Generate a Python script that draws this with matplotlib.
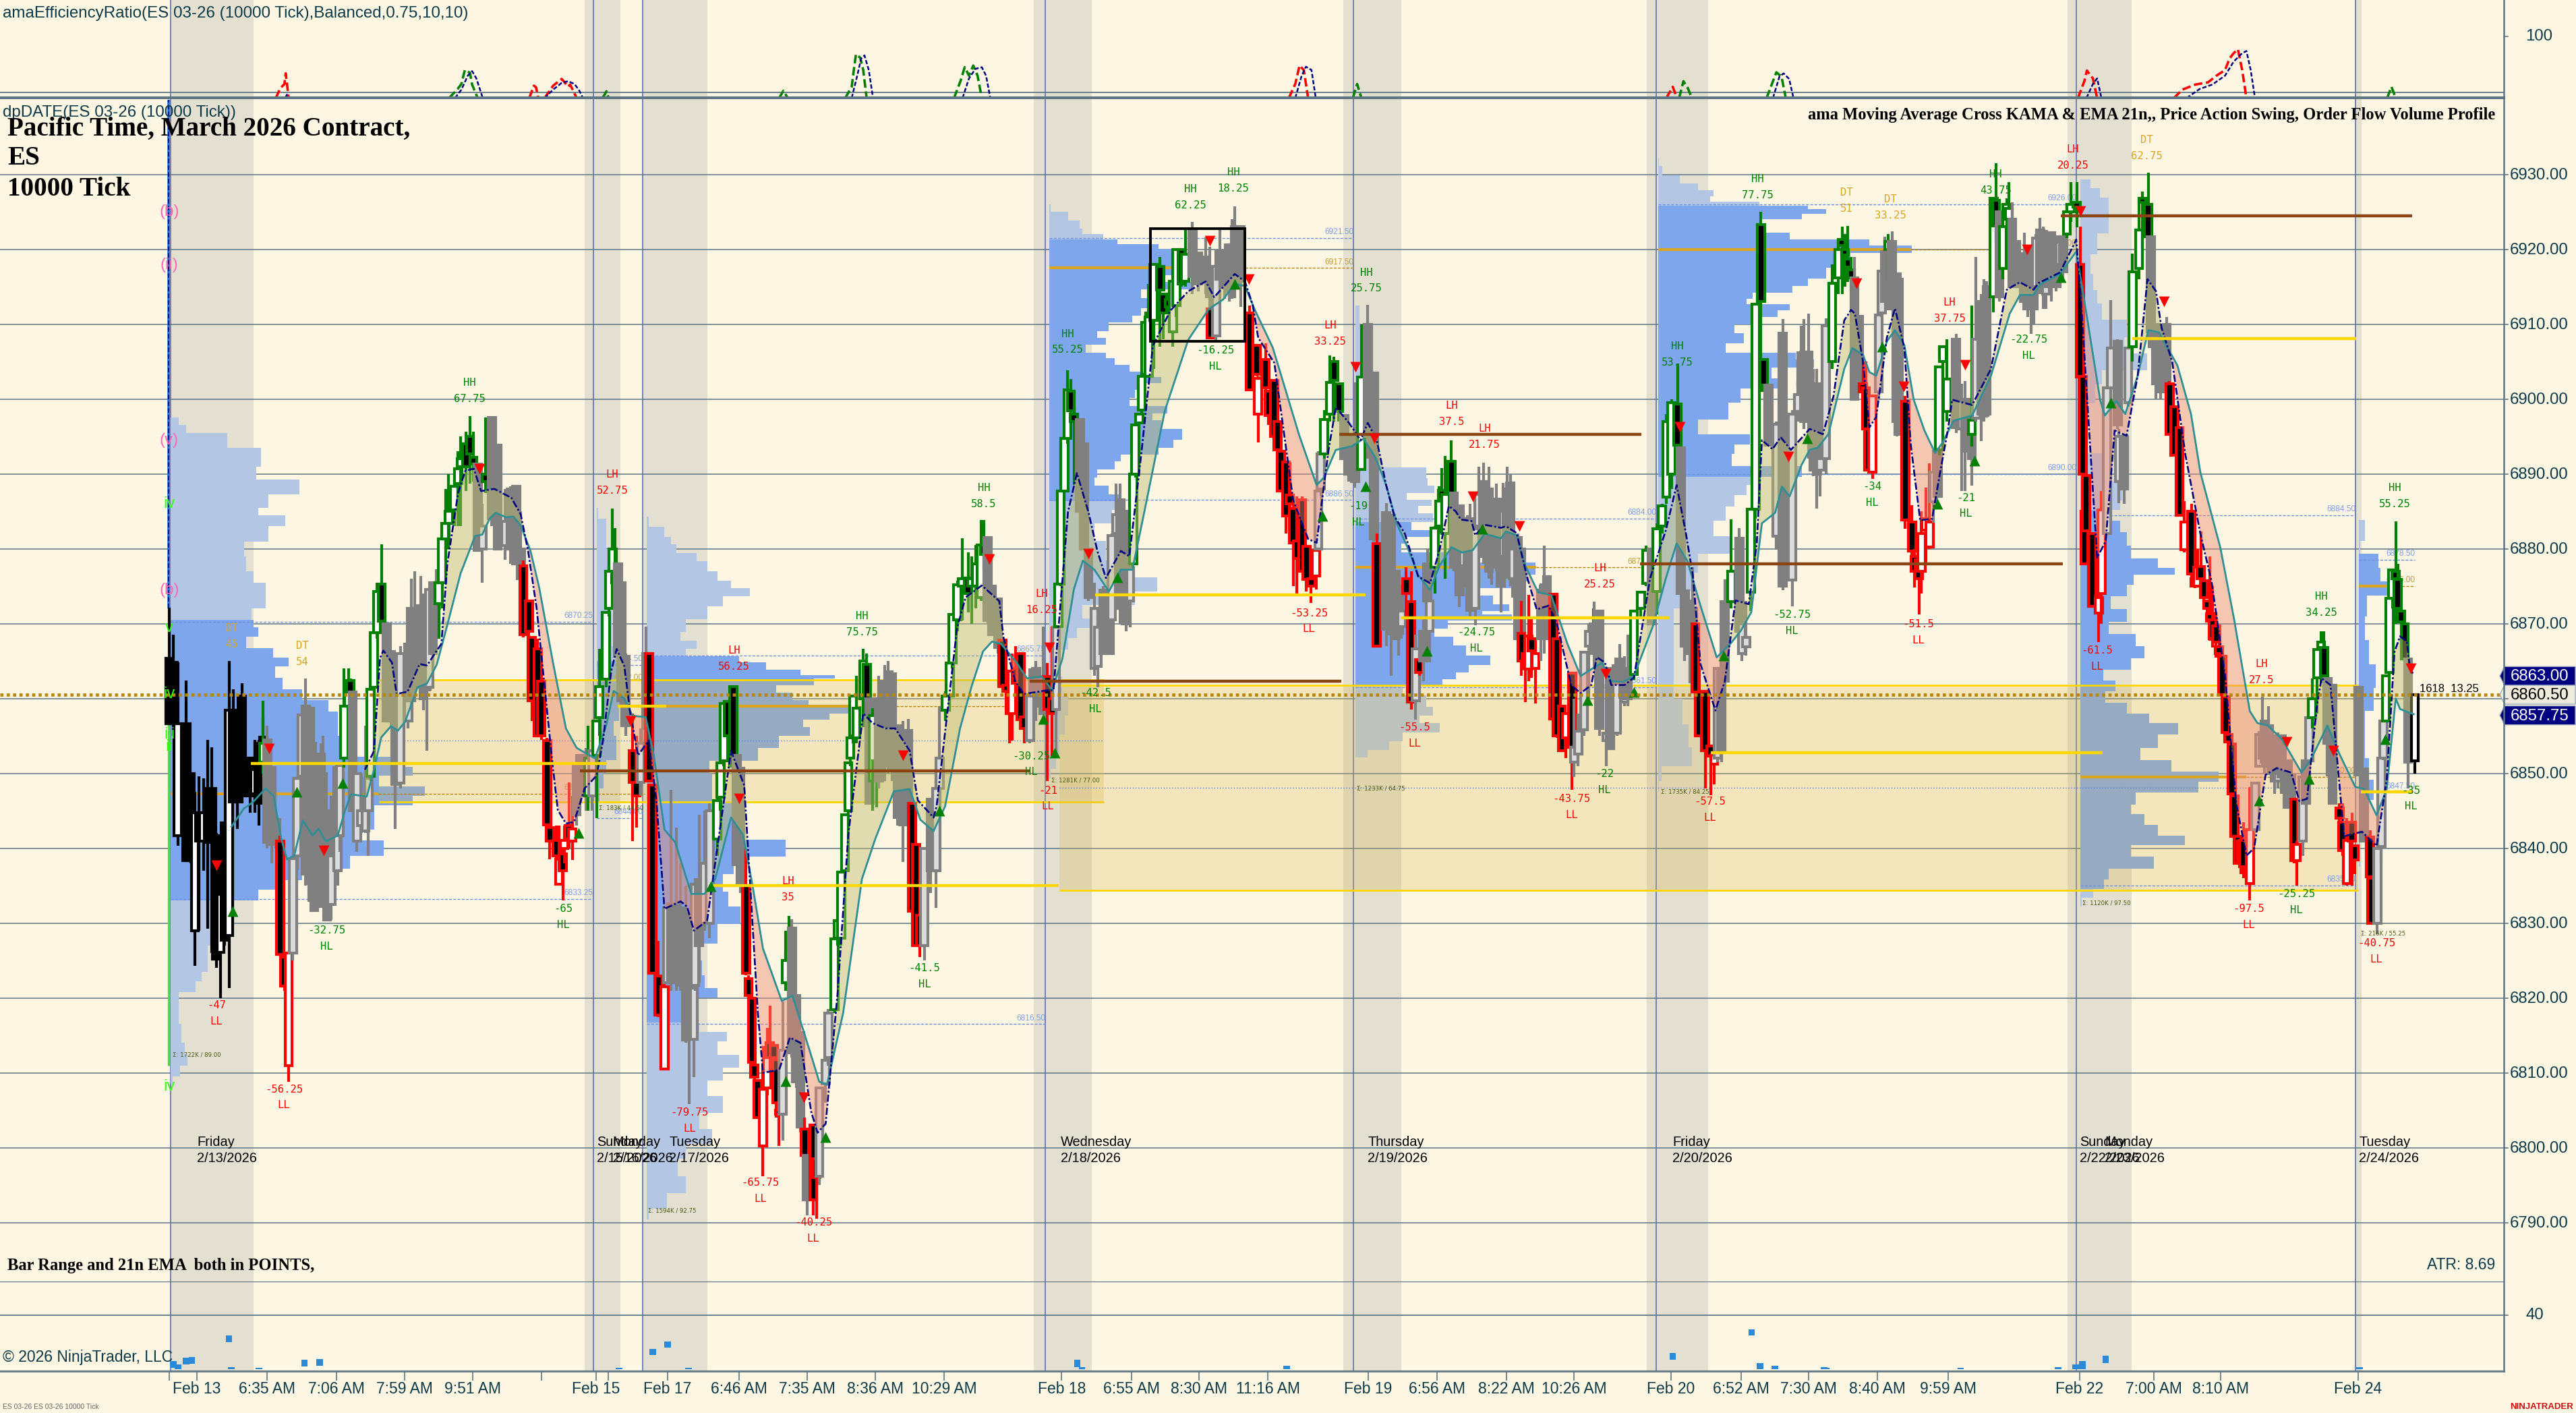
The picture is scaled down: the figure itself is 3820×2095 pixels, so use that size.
import numpy as np
import matplotlib
matplotlib.use("Agg")
import matplotlib.pyplot as plt
from matplotlib.patches import Rectangle, Polygon

W, H = 3820, 2095
PX_BAR = 6.325     # screen pixels per bar slot
X0 = 251.0         # screen x of slot 0

# ---- candles: (slot, state, open, high, low, close); state k=session open g=up swing n=neutral r=down swing
bars_feb13 = [
(0,'k',6865.4,6872.1,6856.6,6856.6),(1,'k',6864.8,6868.5,6855,6856.6),(2,'k',6841.7,6864.8,6840.3,6856.6),
(4,'k',6856.6,6862.4,6838.3,6838.3),(5,'k',6850,6850,6838,6838.3),(6,'k',6829,6847.5,6824.3,6844.7),
(7,'k',6844.7,6849.6,6829,6841),(8,'k',6841,6849.3,6837,6844.7),(9,'k',6848,6854.5,6829.2,6840.8),
(10,'k',6848,6853.5,6826,6841.7),(11,'k',6841.7,6842,6824,6825.2),(12,'k',6826.1,6841.7,6820,6833.8),
(13,'k',6843.4,6843.4,6827,6827.7),(14,'k',6828.3,6865,6821.3,6858.4),(15,'k',6858.4,6861.2,6846,6846.2),
(16,'k',6858.4,6858.4,6842.6,6846.2),(17,'k',6860.3,6862,6846,6847),(19,'k',6852,6852,6844.7,6847),
(20,'k',6847.3,6854.5,6844.7,6850.5),(21,'k',6854,6854.5,6843,6846),(22,'k',6854.8,6857.5,6846,6846.6),
(22,'g',6851.5,6859.7,6850,6854),(23,'n',6854.5,6856.4,6840,6840.8),(24,'n',6850.8,6851,6838,6840.5),
(25,'n',6843.8,6844,6840,6841),(26,'r',6841,6841.7,6825.8,6825.8),(27,'r',6825.5,6826,6821,6821.6),
(28,'r',6811,6826.1,6808.8,6826),(29,'n',6826,6838.6,6825,6838.6),(30,'n',6839,6849.3,6837.1,6849.3),
(31,'n',6849.6,6857.8,6849,6857.8),(32,'n',6859,6862.7,6835,6836.5),(33,'n',6858.7,6858.7,6835,6835.3),
(33.5,'n',6854,6854,6833,6833),(34,'n',6843.8,6843.8,6831.7,6831.7),(35,'n',6835.6,6845,6835,6840.8),
(35.5,'n',6852.6,6854,6835,6835),(36,'n',6850,6855,6832,6832.2),(37,'n',6838,6840,6830.4,6830.4),
(38,'n',6832.5,6847,6830.4,6845),(38.5,'n',6845,6847.5,6838.5,6839),(39.5,'n',6837,6851,6835,6850.8),
(40,'n',6841.7,6851,6839.5,6851),(41,'g',6852,6864,6850.8,6859),(42,'g',6859,6864,6857,6862.4),
(42.5,'g',6862.4,6862.7,6860,6860.9),(43,'n',6860.9,6860.9,6845,6845),(44,'n',6841,6850,6839.5,6850),
(45,'n',6843,6850,6842,6845),(46,'n',6842.3,6856.4,6842,6846.8),(46.7,'n',6845,6851.7,6839,6849.3),
(47.2,'g',6849.6,6861.2,6849,6861.2),(48,'g',6861.5,6868.8,6860,6868.8),(48.7,'g',6868.8,6875.5,6868,6874.3),
(49.8,'g',6875.3,6880.6,6870,6870.3),(51,'n',6870,6870,6857,6857),(52,'n',6866.3,6866.3,6856,6857),
(53,'n',6860.3,6861,6842.6,6848.5),(54.2,'n',6848.7,6867,6848,6866),(56,'n',6857,6867.3,6856,6867.3),
(56.7,'n',6872,6876,6859,6859.7),(57.5,'n',6872,6877,6861,6861.5),(59,'n',6872.4,6876.4,6860,6861.5),
(59.6,'n',6865,6874,6858.4,6860),(60.4,'n',6872.4,6872.4,6853,6861.2),(61,'n',6861.5,6874.6,6861,6874.6),
(61.8,'n',6875.5,6875.5,6864,6866),(62.6,'n',6875.5,6877.3,6870,6872),(63.2,'g',6872.7,6881,6868,6875.5),
(64,'g',6875.5,6881.3,6872,6881.3),(64.8,'g',6881.3,6888,6880,6883.4),(65.5,'g',6883.4,6890,6880,6885),
(66.8,'g',6885.2,6890,6883,6888.3),(67.7,'g',6888.7,6893,6883,6890.7),(68.3,'g',6891,6895,6883,6892),
(69.6,'g',6894,6895.6,6887.7,6891),(70.5,'g',6895,6897.7,6888.7,6892.7),(71.3,'g',6892.2,6895.6,6889,6891.3),
(72.3,'n',6891.3,6891.3,6879.8,6879.8),(73.4,'n',6880,6886,6875.5,6883),(74.2,'g',6890,6897.5,6887.4,6889),
(75.6,'n',6897.5,6897.5,6883,6884),(77,'n',6893.8,6893.8,6880,6880),(78.8,'n',6880.4,6888,6878.5,6883.7),
(80,'n',6888,6888.3,6878,6880),(81.3,'n',6888.3,6888.3,6878,6878),(82.4,'n',6880,6885,6875.5,6876),
]
bars_feb15_early = [
(83,'r',6877.7,6878.4,6868.2,6868.5),(84.3,'r',6873,6873,6867.7,6869),(85,'r',6868.2,6868.2,6857,6859.7),
(86.4,'r',6866.6,6868,6855,6855),(87.2,'r',6862.3,6862.7,6854.5,6855),(88.6,'r',6854.4,6854.7,6843,6843.1),
(89.2,'r',6842.8,6843,6838.5,6841),(90.8,'r',6841,6843,6838.5,6839),(91.4,'r',6835.2,6843,6835,6838.5),
(92.3,'r',6839.2,6841,6833,6837),(92.6,'r',6840,6843,6838,6841),(93.7,'r',6843,6848.8,6840,6841.2),
(94.5,'r',6841,6847,6838.4,6842.6),(95.5,'n',6851,6851,6843,6844.5),(96.4,'n',6852.4,6852.4,6846,6847),
(97.7,'n',6847,6853.4,6845,6850.4),(98.2,'g',6847,6856.4,6845,6852),(99.2,'n',6847,6853,6845,6853),
(100.2,'g',6852.4,6857,6844,6857),(100.8,'g',6857.4,6866.6,6855,6861.6),(102.4,'g',6862.6,6871.5,6861.5,6871.5),
(103.1,'g',6872,6877,6871,6877),(103.9,'g',6877,6885.4,6875.8,6880),(104.5,'g',6876.5,6882.8,6875,6875.5),
(105.2,'n',6878,6878,6865.6,6865.6),(106,'n',6875.5,6875.5,6859,6859.7),(107,'n',6865.6,6866,6855,6856.4),
(108.6,'r',6853,6858,6841,6848.8),(109.5,'r',6848.8,6855,6842.8,6847),(110.5,'n',6848.8,6856,6847,6854),
]
bars_feb17 = [
(111.8,'n',6866,6869.6,6855,6856),(112.5,'r',6866,6866,6849,6849),(113.3,'r',6848.4,6848.4,6823.3,6823.3),
(114.7,'r',6822.9,6827.6,6817.4,6817.7),(116.1,'r',6810.5,6824,6810.4,6821.5),(116.7,'n',6822,6832,6822,6832),
(117.7,'n',6832.6,6847.8,6821,6822),(118.9,'n',6832.3,6842.8,6821,6822),(119.9,'n',6832,6838,6821,6821.7),
(121.1,'n',6831.2,6835,6814,6814.4),(121.9,'n',6821,6825,6805.8,6815),(123,'n',6814.5,6821.3,6809.4,6821.3),
(123.3,'n',6821.7,6836,6821,6835.2),(124.2,'n',6835.8,6844.5,6822,6827),(125.5,'n',6830,6845,6829,6838),
(126.7,'n',6830,6846,6828,6845),(128.5,'g',6841.2,6847,6839,6846.4),(129.2,'g',6846.8,6851.4,6845,6851.4),
(130,'g',6851.7,6859.3,6851,6859.3),(131,'g',6859.6,6859.6,6855,6855),(132.2,'g',6861.6,6861.6,6851,6851),
(133,'n',6852.4,6852.4,6837.8,6837.8),(133.9,'n',6850.7,6850.7,6834,6835.2),(135.2,'r',6835,6840,6823,6823.3),
(135.8,'r',6822.6,6823,6820,6820.3),(136.6,'r',6820,6820,6811.2,6811.4),(137.2,'r',6811,6811,6809,6809.4),
(137.9,'r',6809,6809,6804,6804),(139.2,'r',6800.2,6811,6796.2,6807.8),(140.2,'r',6808,6816,6807,6813.4),
(140.8,'r',6814,6819,6810,6812),(141.7,'r',6813.7,6814,6808,6812),(142.3,'r',6811.8,6812,6804,6806),
(143,'r',6805,6806,6800.2,6804.5),(143.8,'n',6804.5,6819.5,6801,6813),(144.5,'g',6822,6829,6821,6825),
(145.3,'g',6825,6831,6823,6826),(146,'n',6829.3,6830.5,6812,6812.7),(147,'n',6820.3,6820.3,6808,6808.8),
(148,'n',6815.4,6815.4,6802,6802.8),(149,'r',6802.5,6804,6793,6799),(149.5,'n',6799,6799,6791,6793),
(151,'r',6803,6803.2,6791,6793),(151.7,'r',6798.5,6799,6790.5,6796),(152.4,'n',6796.2,6808,6795,6808),
(153.9,'n',6808.5,6811.7,6806,6811.7),(154.5,'n',6812,6818.5,6811,6818),(156,'g',6818.4,6827.9,6818,6827.9),
(156.7,'g',6828,6830.3,6827,6830.3),(157.5,'g',6828,6836.8,6827,6836.8),(158.4,'g',6837,6844.5,6837,6844.5),
(159.2,'g',6845,6851.4,6844.5,6851.4),(159.7,'g',6852,6854.7,6851,6854.7),(160.3,'g',6855,6860.3,6854,6860.3),
(161.1,'g',6854.7,6863,6854,6858.7),(162.7,'g',6860,6866.6,6858,6865),(163.5,'g',6864.6,6866,6856,6856.4),
(164.2,'n',6860,6860,6846,6846),(164.9,'g',6849,6858.7,6845,6857.7),(165.8,'g',6849,6860,6845.5,6851.7),
(166.4,'n',6860,6863,6848,6849),(167.7,'n',6862.3,6864.5,6849,6851),(168.6,'n',6863.6,6865,6850,6851.7),
(169.5,'n',6863.3,6863.3,6849,6850.4),(170.8,'n',6856.4,6856.4,6843,6844.1),(172,'n',6855.4,6857,6838.2,6843.1),
(173.3,'n',6855.7,6857.3,6843,6843.1),(174.2,'r',6846,6846,6831.6,6831.6),(175.1,'r',6840.5,6840.5,6827,6827),
(176,'r',6831,6831,6825.5,6827),(177,'n',6827,6840,6825,6840),(178.5,'n',6846.5,6846.5,6834,6837),
(179.8,'n',6837,6850,6832,6848),(180.6,'n',6848,6859,6846,6852),(182,'g',6858.4,6861,6857,6860.3),
(183,'g',6860.3,6864.7,6859,6864.7),(183.6,'g',6864.7,6871.2,6864,6871.2),(184.8,'g',6870.5,6875.7,6869,6875.2),
(185.9,'g',6875,6881.4,6870.4,6876),(187.3,'g',6876.1,6879.5,6871.5,6874),(188.1,'g',6875,6879,6870,6876),
(189.1,'g',6875,6880.5,6872,6878),(190.3,'g',6873.5,6883.8,6873,6880.5),(191,'g',6880.5,6883.8,6877,6879.2),
(191.9,'n',6881.5,6881.5,6870,6870.4),(192.9,'n',6875,6875,6868.5,6868.5),(194.3,'n',6873.3,6873.3,6866,6866.8),
(195.3,'r',6867.8,6868,6861.6,6861.6),(196.2,'r',6861.8,6862,6860,6861),(197,'r',6860.6,6861,6854,6858),
(197.6,'r',6858,6866,6854.4,6863.7),(198.4,'r',6864,6867,6860,6862),(199.6,'r',6866,6866,6857,6857.2),
(200.4,'r',6857.5,6860,6854,6856),(201.8,'n',6854.4,6864,6854,6860.3),(203.2,'n',6864,6865,6857,6861),
(204.2,'n',6862.9,6862.9,6858,6859),(204.9,'n',6862.6,6869.6,6858,6858),(205.9,'r',6862.9,6864.7,6849,6858.5),
(207,'r',6860,6869.6,6852.3,6858),
]
bars_feb18 = [
(207.9,'n',6858.5,6869.6,6852,6869.5),(208.5,'g',6869.6,6875.3,6869.6,6875.3),(209,'g',6875.3,6887.7,6875,6887.7),
(209.9,'g',6887.7,6894.7,6887.7,6894.7),(210.6,'g',6894.7,6903.8,6894,6901.2),(211.4,'g',6901,6902.7,6896,6898.4),
(212.1,'g',6898,6899,6888.5,6897),(213.5,'n',6897.3,6897.3,6885,6885),(214.5,'n',6894,6894,6880,6880),
(215.5,'n',6880,6880,6873,6873.5),(216.9,'n',6864,6875.5,6863,6872),(217.7,'n',6864.3,6872,6861.5,6869.5),
(219,'n',6874.5,6875,6866,6866),(220.5,'n',6871,6871,6866,6866),(221,'n',6870.5,6882,6870,6881.8),
(222,'n',6882,6888.7,6880,6884.6),(223,'n',6886.5,6888.7,6870,6872),(224.3,'n',6885,6885,6869,6870),
(225.3,'n',6873,6880,6869.5,6877.4),(226,'g',6878,6890,6877.5,6890),(226.5,'g',6890,6896.5,6889.5,6896.5),
(227.4,'g',6896.8,6898,6896,6898),(228,'g',6898.5,6903,6898,6903),(228.9,'g',6903.3,6911.7,6903,6910.2),
(229.6,'g',6903,6915.4,6903,6911),(230.8,'g',6910.5,6918,6904,6918),(232.3,'g',6917.7,6919,6907,6914.6),
(233,'g',6914,6914,6908,6911.5),(234.4,'g',6913.3,6915,6909,6912.3),(235.3,'g',6909,6915.7,6907,6915.7),
(236.1,'g',6912.5,6920,6911,6920),(237.3,'g',6920,6920,6915,6915.4),(238.2,'g',6915.7,6922.6,6915,6919.3),
(239.9,'n',6922.6,6923.7,6914,6916.4),(241.2,'n',6919.5,6919.5,6914.4,6915.4),(243,'n',6919,6921.6,6914,6915.7),
(244,'n',6917.7,6920.3,6912,6913.7),(244.1,'r',6912,6912,6908.2,6908.2),(245.4,'n',6908.4,6917.7,6907.9,6917.7),
(246.3,'n',6919.8,6922.6,6915,6916),(247.4,'n',6919.8,6919.8,6913.4,6915),(248.5,'n',6920.6,6920.6,6913,6914.4),
(249.2,'n',6917.2,6924,6913.4,6920.6),(249.8,'n',6923,6925.7,6913.5,6915),(251.2,'n',6923,6923,6912.3,6915.7),
(253.3,'r',6911.5,6912.5,6901.2,6901.2),(255,'r',6907.2,6907.2,6903,6903.3),(255.3,'r',6898,6903,6894.2,6902.8),
(257,'r',6905.3,6907.4,6900,6901.5),(257.7,'r',6901,6901,6896.5,6897.8),(259,'r',6902.5,6902.5,6895,6895),
(259.9,'r',6897,6897,6893,6893.2),(260.6,'r',6893,6893,6887.7,6887.7),(261.8,'r',6891.6,6891.6,6882,6884.4),
(262.7,'r',6887.2,6891.6,6881.5,6886),(263.5,'r',6885.4,6887.2,6875,6880.8),(264.4,'r',6881,6887,6874,6878.7),
(265.6,'r',6886.5,6887,6877,6877),(266.6,'r',6880.3,6880.3,6874.3,6875.9),(267.7,'r',6876,6877,6872.8,6875),
(268.9,'r',6876.4,6880.5,6874.6,6879.8),(269.4,'n',6880,6893,6879.8,6887.7),(270,'n',6888,6893,6887,6892.7),
(270.8,'g',6892.7,6898.5,6892,6897.3),(272.1,'g',6898,6905.8,6897,6902.2),(273.1,'g',6905,6905.6,6897,6902.5),
(274.2,'g',6902,6902,6897,6898.3),(275.5,'n',6897.8,6897.8,6892,6892),(276.5,'n',6895,6895,6889,6890),
(278,'n',6893,6902.2,6888.2,6889),(279.5,'g',6890.6,6910,6890.5,6902.9),
]
bars_feb19 = [
(281,'n',6910,6912.6,6892,6895),(282.4,'n',6903.5,6903.5,6881,6881.3),(283.1,'r',6880.7,6882,6867,6867),
(285.3,'n',6884.8,6886.1,6867,6869.2),(286.5,'n',6884.5,6884.5,6863,6868.6),(287.5,'n',6877,6877,6868,6868),
(288.3,'n',6875,6875,6865.7,6868.7),(288.9,'n',6869.6,6873.6,6868,6871.7),(290,'r',6876,6877.5,6871,6874),
(291.2,'r',6872.9,6877,6858.5,6859.5),(292.2,'n',6859.7,6868.5,6857.2,6866.6),(293.1,'r',6865.2,6866,6863,6863.5),
(294,'n',6869,6871,6862.3,6865),(295,'n',6878,6880,6868,6873),(295.5,'n',6869,6874,6864.8,6873),
(296.7,'g',6877.5,6883,6874,6882.8),(297.7,'g',6883,6888.3,6882,6886.4),(298.4,'g',6887.8,6890.8,6885.5,6886.6),
(299.2,'g',6882,6892.4,6876,6887.3),(300.6,'g',6891.7,6894.5,6886,6887.4),(301.2,'n',6887.4,6887.4,6877,6877.5),
(302.5,'n',6885.7,6885.7,6872.2,6873.8),(303.4,'n',6877.7,6885,6875.9,6879.8),(304.4,'n',6884,6884.5,6873,6875),
(305,'n',6884,6886,6871,6871.8),(306.2,'n',6872,6885,6869.8,6882.7),(307,'n',6883,6891,6882,6887.3),
(308.1,'n',6889,6891.5,6878,6879),(309.4,'n',6888,6891,6876,6877),(310,'n',6885.3,6888,6875.2,6878.4),
(311.2,'n',6886.6,6888.7,6877,6877.5),(312.2,'n',6886,6886,6871.5,6875),(312.8,'n',6879,6888.8,6875.3,6885),
(313.6,'n',6888,6891,6876,6878),(314.4,'n',6888.8,6890,6875,6878.5),(315,'n',6876,6889,6873.5,6880),
(316.2,'n',6881.5,6882,6868,6868),(316.9,'n',6880,6880,6868.9,6869),(317,'r',6868.7,6873,6863,6865),
(318,'r',6866,6868,6859.5,6864),(318.7,'r',6863.9,6873.8,6862.3,6868.3),(319.4,'r',6868,6870.8,6862.8,6866.4),
(320.3,'r',6864,6868,6859.3,6866),(321.6,'n',6868,6875.4,6865,6874.5),(322.3,'n',6875,6880.4,6866,6868),
(323,'n',6876.3,6876.3,6869,6869),(324.5,'r',6873.9,6874,6857,6857.3),(325.3,'r',6868,6873.8,6854.7,6855),
(326.5,'r',6859,6859,6853,6853),(327.5,'r',6854.7,6858.2,6852,6858),(328.9,'r',6863.4,6863.4,6847.8,6853.5),
(329.4,'n',6851.5,6860,6849.5,6853.5),(330.3,'n',6852.6,6858,6851,6855.6),(331.7,'n',6855.8,6866.2,6855,6866.2),
(332.8,'n',6867,6870,6860,6869),(333.9,'g',6868.5,6872,6868,6869.5),(334,'n',6870,6872.9,6864,6866),
(335.3,'n',6871.7,6871.7,6855,6856),(336.9,'n',6854.4,6862,6851,6855.4),(337.8,'n',6864,6864,6853.3,6853.3),
(339.4,'n',6855.4,6864.4,6855,6864.4),(340,'n',6865.3,6867.3,6860,6862),(341.2,'n',6859.5,6865.6,6859,6861.6),
(341.9,'n',6864,6868.5,6859,6860),
]
bars_feb20 = [
(343.4,'g',6863.2,6871.7,6862.5,6871.7),(345,'g',6872,6874.2,6871,6874.2),(346.3,'g',6875.4,6880.4,6875,6879.8),
(347.5,'n',6880,6880,6870,6870),(348.7,'g',6874.3,6883.4,6871.2,6882.7),(350,'g',6883,6886,6882,6885.7),
(351,'g',6886.9,6898,6886,6897),(352.2,'g',6890,6900,6888,6899.5),(353.6,'g',6899.3,6904.7,6893.5,6893.8),
(354.4,'n',6893.5,6893.5,6874,6874),(355.3,'n',6874.4,6874.4,6865,6867),(356.5,'n',6873,6873,6862,6866),
(357.2,'n',6872,6877.5,6864,6866),(357.8,'r',6870,6870,6860.5,6860.9),(358.7,'r',6860.9,6864,6855,6855),
(360.1,'r',6861,6861,6848,6853),(361.4,'r',6853.7,6853.7,6847.1,6852.3),(362.2,'r',6851.2,6853,6848.5,6852.5),
(363,'n',6852,6864,6851.5,6864),(363.9,'n',6864,6870.8,6851.5,6853),(364.7,'n',6872.9,6875.9,6862,6862.3),
(366.2,'g',6872.9,6883.9,6872,6877),(368.1,'n',6881.4,6882.8,6869,6869),(368.7,'n',6866,6880,6865,6870),
(369.7,'n',6866.9,6873,6865.7,6868.2),(370.8,'g',6874.2,6885.3,6871.7,6885.3),(371.9,'g',6885.3,6912.7,6884,6912.7),
(373.2,'g',6923.3,6925,6901,6913),(373.8,'g',6905.3,6905.3,6901,6901.9),(374.9,'n',6901.9,6901.9,6893.8,6893.8),
(376.8,'n',6881.7,6897,6880,6896.6),(378.3,'n',6908.8,6910.7,6874.5,6875),(380.5,'n',6875.8,6898.5,6872.3,6898),
(381.8,'n',6898.3,6906.4,6897,6900.6),(382.6,'n',6901.8,6909.8,6897,6902.2),(383.3,'n',6906.3,6910.7,6896,6897),
(384.3,'n',6906.3,6911.4,6892,6897.2),(385.5,'n',6899.4,6904,6889.7,6890.5),(386.3,'n',6902,6904,6885.4,6890),
(387.1,'n',6890.5,6901.5,6887,6892),(388.4,'n',6892,6910.8,6890,6909.8),(389.9,'g',6905,6918,6904,6915.5),
(391.3,'g',6916.2,6921.5,6914,6920),(392.2,'g',6921.3,6923,6914,6920.5),(392.9,'g',6920,6922,6915,6919.2),
(393.5,'g',6918.7,6923.1,6915.6,6917.6),(394.3,'g',6917.3,6919,6914.5,6916.2),(395.1,'n',6916.2,6919,6900,6900),
(396.1,'n',6911,6911,6902,6902),(397.1,'r',6902,6905,6897,6901),(397.8,'r',6901.5,6905,6895.9,6896),
(398.3,'r',6896,6896,6890.5,6890.5),(399.3,'r',6890.2,6900.4,6889.3,6900.4),(400.8,'n',6901,6911.2,6900,6911.2),
(401.5,'n',6911.5,6917.1,6911,6917.1),(402.2,'n',6919.7,6921.7,6913,6913),(403,'g',6920,6922,6915.5,6921),
(403.9,'n',6921,6922.4,6912,6912),(405,'n',6916.7,6916.7,6895,6897),(405.5,'n',6916,6916,6895.3,6895.3),
(407,'r',6899.7,6900.4,6882.7,6883.8),(408.6,'r',6883.6,6885.8,6879,6879.7),(409.2,'r',6879,6880,6874.8,6877),
(410.2,'r',6878.5,6880,6871.2,6876),(410.8,'r',6877,6885,6874,6882),(411.8,'r',6882.5,6888.2,6878,6884),
(412.7,'r',6880.2,6891.4,6880,6883.6),(413.6,'n',6886.3,6893.2,6883.5,6890.2),(414.6,'n',6893,6893,6887,6887),
(415,'g',6893.2,6904.3,6892.5,6904.3),(415.8,'g',6905,6907,6900,6907),(416.8,'g',6898.3,6908,6897,6902.7),
(418.9,'n',6908,6908.7,6895.5,6896.2),(420.3,'n',6896,6902,6887.7,6899.7),(421.1,'n',6900,6902.4,6887.7,6893),
(421.9,'n',6898,6900,6892,6893),(422.6,'n',6896,6898,6888.4,6892),(422.6,'g',6895.3,6912.5,6893.7,6897.2),
(423.6,'n',6897.4,6919,6897,6908),(424.9,'n',6913,6914,6894.4,6898),(425.5,'n',6897.8,6916,6897,6911.8),
(426.1,'n',6915,6915.7,6897.5,6898),(427.7,'g',6913.7,6926.8,6911.6,6926.8),(428.3,'g',6926.5,6931.5,6921,6923.1),
(429.1,'n',6925,6925,6913,6913.7),(429.9,'g',6917.4,6925,6916,6923),(430.8,'g',6924,6926.8,6920,6926),
(431.3,'g',6924,6929,6922.5,6925.5),(432.1,'n',6924,6926.3,6915,6915),(433,'n',6921,6921,6915.5,6915.7),
(434,'n',6918.7,6918.7,6914,6915),(434.9,'n',6919.4,6922.2,6912.3,6913),(435.7,'n',6917.8,6917.8,6911,6912),
(436.5,'n',6913,6918,6908.7,6914),(437.1,'n',6920,6920,6910,6912),(437.7,'n',6915,6922,6912,6921.5),
(438.6,'n',6922.6,6924.2,6914,6915),(439.3,'n',6922.4,6923,6912,6915),(440,'n',6914,6922,6912,6915),
(441.2,'n',6922.2,6922.2,6913,6915),(442.4,'n',6921.7,6921.7,6914.4,6915),(443.3,'n',6918,6921,6915,6921),
(444,'n',6921.7,6921.7,6916,6917),(444.9,'g',6922,6926,6921.5,6925),(445.8,'g',6925,6929,6923.7,6926),
(447.2,'g',6926.3,6929,6922.9,6925.6),
]
bars_feb22 = [
(448,'r',6918,6923,6902.9,6902.9),(448.6,'r',6903,6903,6890,6890),(449,'r',6885,6885,6878,6878),
(449.4,'r',6889.8,6889.8,6882.4,6882.4),(450.8,'r',6882,6882,6872.3,6872.3),(452.4,'r',6871.4,6875,6867.5,6873.5),
(453,'r',6874,6887.7,6870,6885.2),(454.3,'n',6882,6901.5,6882,6901.5),(455.2,'n',6901.5,6913.2,6900,6906.8),
(456.8,'n',6907.7,6908,6896,6896.5),(457.1,'n',6889,6896,6886.1,6895),(458.3,'n',6895,6895,6886,6888),
(459.3,'n',6899.5,6907,6899,6906.8),(460.3,'g',6907,6919.4,6905,6917),(461.8,'g',6917.4,6927,6916,6922.6),
(462.6,'g',6926.8,6927.7,6920,6926.3),(464,'g',6926,6930.2,6921,6921.7),(464.6,'n',6921.7,6921.7,6909,6909),
(465,'n',6909,6910,6906.3,6907),(465.8,'n',6910,6910,6900,6902),(466.8,'n',6905,6910,6900,6901),
(468.3,'n',6910,6911,6901,6902.5),(469,'r',6902,6902.4,6895.3,6895.3),(470.1,'r',6899,6899,6892.5,6892.5),
(471.3,'r',6896.2,6896.4,6884.5,6884.5),(472.4,'r',6879.9,6886.4,6879.5,6883.6),(474.1,'r',6885,6886,6875.6,6876.6),
(474.9,'r',6876,6880,6874.7,6875),(475.5,'r',6875,6880,6875,6877.5),(476.3,'r',6877.6,6882.3,6874,6876),
(477,'r',6875.7,6875.7,6873,6873.5),(477.8,'r',6873,6873,6871,6872),(478.4,'r',6871.3,6879,6867.7,6870.3),
(479.1,'r',6870.5,6875,6866.8,6868),(479.9,'r',6869.7,6871.6,6865.5,6867.5),(480.6,'r',6866.9,6867.5,6865.5,6866),
(481.4,'r',6865.6,6865.6,6860.5,6860.5),(482.1,'r',6860.2,6860.2,6855.5,6855.5),(482.8,'r',6855.2,6855.2,6853.9,6854.2),
(483.6,'r',6853.9,6853.9,6847.3,6847.3),(484.2,'r',6847,6847,6841.6,6841.6),(484.9,'r',6841.6,6841.6,6837.8,6838),
(485.7,'r',6841,6841,6836.5,6838),(486.3,'r',6841,6843.5,6836,6837.5),(487.8,'r',6835.3,6848.2,6833,6842.5),
(489.1,'n',6842.5,6848.7,6842,6848.7),(490,'n',6851,6855.5,6851,6855.2),(490.8,'n',6855.5,6860.2,6851,6852),
(491.3,'n',6857,6857,6850,6851.5),(492.2,'n',6856.4,6859,6850,6851),(492.8,'n',6855,6856.5,6849.7,6850),
(493.6,'n',6855,6855,6847.3,6849),(494.4,'n',6849,6855.5,6848,6850),(495.2,'n',6855,6855,6847.3,6849.5),
(496,'n',6851.7,6851.7,6847,6848),(496.7,'n',6851.7,6851.7,6845.3,6845.5),(497.5,'n',6849.8,6849.8,6846,6846.6),
(498.2,'r',6846.5,6846.5,6838,6838.3),(498.8,'r',6838.3,6841,6835,6840.5),(500.2,'n',6841,6849.5,6839,6849.5),
(501,'n',6851.7,6851.7,6846,6846),(501.7,'n',6851.7,6857.4,6851,6857.4),(502.4,'g',6857.4,6862.7,6856,6860),
(503.6,'g',6862.8,6866.5,6858,6866.5),(504.5,'g',6866.5,6869,6862,6867.5),(505.2,'g',6866.8,6869,6861,6863),
(506,'n',6862.7,6862.7,6853,6854),(506.7,'n',6861.8,6861.8,6849,6849.8),(507.2,'n',6861.8,6861.8,6846,6846),
(508.8,'r',6845.4,6846,6843.5,6844),(509.5,'r',6843.5,6846,6839,6839.7),(510.5,'r',6835.3,6844,6835,6841),
(511.7,'r',6843.5,6844.7,6835,6841),(512.4,'r',6840.3,6840.5,6836.5,6838.4),
]
bars_feb24 = [
(513.3,'n',6861.5,6861.5,6849.8,6849.8),(514.6,'n',6850.6,6850.6,6841,6841),(516,'r',6841.5,6842.4,6835.5,6836.2),
(516.2,'r',6836,6836,6830,6830),(517.7,'n',6830,6840.2,6828.5,6840),(518.6,'n',6840.2,6852,6838,6852),
(519.1,'n',6852,6857,6851.8,6857),(519.7,'g',6857,6863,6857,6863),(520.5,'g',6863.5,6873.4,6863,6873.4),
(521.2,'g',6873.4,6877.2,6872,6877.2),(522,'g',6877,6883.7,6870,6876),(522.5,'g',6875.9,6878,6871.8,6872),
(523.3,'g',6871.7,6871.7,6870,6870.2),(524.1,'g',6870,6870,6865,6865.3),(524.9,'n',6865.3,6865.3,6848,6851.5),
(526.5,'k',6851.7,6860.5,6850,6860.5),
]

# ---- moving averages
ema_slots = [14.6,17.5,19.7,22.6,24.5,26.2,27.6,29.3,31.3,33.6,35,36.7,39.5,41.2,42.6,46.3,48,49.7,52,53.6,55.3,58.2,60.4,62.7,65,68.3,71.7,73.4,75.1,76.5,79,80.7,82.4,84.7,86.7,89.9,93,95.5,99.8,102.4,104.2,106.7,108.6,111.7,113.6,116.1,118.6,122.4,125.5,128,131.7,134.5,136.7,139.2,143.6,146.1,149.2,152.4,154.2,158,162.4,165.5,169.9,173.6,176.1,179.2,181.9,185.4,188.1,190.8,192.9,195,198.4,201.1,204.6,207,209.4,212.1,214.2,216.9,220.3,223.1,225.8,228.6,233.4,238.9,243.7,247.1,249.8,252.2,254.6,258.7,264.9,269,270.7,273.5,277.3,280,282.8,285.3,287.8,290.3,292.8,295.6,297.8,300.6,303.1,305.6,308.4,312.2,313.4,315.9,317.8,320.9,324,327.8,330.9,333.4,335.9,338.1,340.9,343.4,347.8,350.9,353.4,355.9,359,362.8,366,368.4,370.9,373.4,376.5,378.1,379.9,382.7,384.6,386.5,389,392.7,394.6,397.1,398.6,400.2,402.7,404.6,406.8,409,411.5,414,415.8,418.3,422.7,427.1,431.5,433.9,437.1,438.6,443.3,447.1,449.6,452.7,453.8,456.5,458.6,461.5,464,466.5,470.8,474,476.2,480.9,484.1,487.8,489.6,492,495.4,499.9,502,506,508.8,512.5,514.6,517.5,519.9,522,523,525.2,526.2]
ema_vals = [6842.9,6845.3,6846.2,6848,6846.9,6841.4,6838.5,6839,6843.7,6841.7,6842.6,6840.9,6841.7,6845,6847.2,6846.9,6850.5,6854.8,6856.3,6855.7,6856.9,6861.5,6862,6864.5,6869.4,6876.7,6881.7,6881.9,6884,6884.8,6884.2,6884.3,6883.1,6879.7,6874.9,6865,6856,6853.4,6852,6856.3,6861,6860,6857.7,6857.5,6852.4,6842.5,6840.8,6833.9,6833.9,6835.9,6844.1,6841.8,6835.2,6826.6,6819.6,6820.3,6814.7,6808.8,6808.4,6818,6835.9,6841.2,6847.6,6847.9,6843.8,6842.3,6845.6,6856,6861.6,6866.3,6867.6,6867.3,6865,6862.7,6862.9,6861.1,6865.3,6874.6,6878.4,6877.2,6874.3,6877.2,6877.2,6884.9,6898.4,6907.9,6912,6913.3,6915.4,6915.1,6911.8,6906.9,6895.2,6888.5,6889.5,6893.2,6893.7,6894.7,6892.2,6888.5,6883.4,6880.2,6876.5,6874.5,6877.7,6880.2,6879.5,6879.8,6882,6881.4,6882.3,6881.8,6877.9,6874.2,6873.8,6867.3,6863,6863.9,6864.8,6862.3,6862.2,6863,6869.6,6876.1,6880.7,6878.4,6872.4,6865.5,6867.3,6869,6871.5,6883.4,6884.8,6888.3,6887,6891.2,6893.2,6893.5,6895.3,6904,6906.8,6905.9,6903.6,6903.1,6907.7,6909.2,6907.2,6899.9,6895.8,6892.8,6894.2,6897.1,6897.8,6903.1,6911.4,6913.9,6913.9,6915.3,6916.7,6919.7,6911,6899.9,6897.8,6899.7,6898,6903.1,6909.2,6908.9,6904.5,6898,6890.2,6880.1,6870.6,6858.3,6856.7,6856.4,6854.5,6850.1,6851.7,6856.4,6852.6,6848.2,6847.9,6844.4,6847.9,6860,6858.6,6858.1,6857.9]
kama_slots = [45.9,48,49.4,50.2,52.2,53.3,55.9,58.7,60.4,63.8,65.2,67.7,69.4,71.4,73.1,76.2,80.2,82.4,84.1,86.1,89.9,91.1,93,94.9,97.4,100.2,101.7,103.6,104.9,106.7,108,109.9,112.4,114.2,116.1,119.9,121.4,123,126.1,128.6,131.7,134.8,138,139.2,143,145.5,148,150.5,152,153.9,156.7,159.2,162.7,164.9,168,170.2,173.6,175.5,179.2,179.9,184.7,186.7,190.5,194.6,195.6,198.4,200.4,205.9,207.3,210.7,212.8,215.5,217.6,219.6,223.1,225.1,227.9,230.6,234.7,238.9,243,245,249.8,252.2,254,255.3,259.1,263.5,267,269,271.8,273.5,276.6,279.3,281,283.1,285.3,287.2,289.7,292.8,295.6,297.8,300,301.6,302.8,305.3,306.2,308.4,312.2,313.4,315.9,318.4,320.6,323.4,325.3,328.7,330.9,333.4,334.7,336.6,338.1,341.2,343.4,347.2,350.9,353.4,355.6,357.2,359,362.5,364.7,367.2,370.3,372.2,373.4,375.9,377.8,380.2,384.6,387.7,390.2,392.7,394.3,395.2,397.1,398.6,400.2,402.7,404.6,406.8,408.3,410.5,413.3,414.9,417.1,418,422.7,427.1,430.8,433.9,437.1,438.3,443.3,447.1,448.3,452,454,456.1,458.9,461.5,463.8,465.8,467.1,469.6,472.7,476.2,478.8,482,484.6,487,488.8,491.5,494.1,497.5,499.4,501.2,503.6,504.6,506.7,509.9,514.1,517.5,519.9,521.7,523,524.6,525.4,526.1]
kama_vals = [6850.5,6853,6865.4,6866.4,6864.8,6860.6,6860.9,6864.6,6864.4,6867.3,6878,6887.4,6890.4,6890.7,6887.7,6888,6886.8,6884.6,6879.8,6872.2,6851,6845.1,6843.3,6843.5,6848,6849.7,6854.4,6863.6,6866.6,6864.3,6858.3,6852.4,6854.4,6846.4,6831.9,6832.9,6832.2,6829,6830.3,6840.5,6853,6848.4,6818,6810,6810.4,6814.7,6814,6804.8,6802,6803.2,6820.7,6841.8,6858,6856.7,6856,6856,6853,6846.4,6844.1,6845.6,6869.4,6873.5,6875.1,6873,6868.1,6862.2,6860.6,6861.1,6861.1,6884.9,6890.1,6884.9,6879.7,6876.1,6879.7,6879,6892.7,6907.1,6911.8,6914.4,6915.7,6913.6,6916.7,6915.7,6912.6,6908.2,6904.8,6886.5,6881.3,6880.8,6893.2,6898.9,6896.8,6894.5,6896.8,6894.5,6888.5,6884.4,6882,6876.3,6875.4,6879.8,6885.7,6885,6883.9,6883.7,6881.8,6883.2,6882.8,6883,6882.1,6876.1,6871.9,6872.4,6870.1,6861.8,6860.7,6861.8,6865.5,6864.8,6861.8,6861.8,6862.8,6876.1,6882.5,6888.5,6882,6876.5,6864.6,6858.4,6862.3,6873.1,6872.6,6880.7,6894.5,6893.3,6894.9,6893.2,6896,6895.3,6900.4,6910.5,6911.9,6911.4,6905,6896.2,6897.6,6908.2,6912.1,6906.8,6893.9,6883.8,6884,6889.3,6896.2,6899.9,6899.2,6904,6914.6,6915.6,6914.6,6915.5,6916.9,6921.3,6912.3,6878.8,6881,6895.8,6895.1,6903.1,6916,6914.4,6909.5,6905,6892.5,6882,6875.7,6863,6846,6839,6840,6849.8,6850.7,6850.1,6846.3,6846.6,6859.3,6862.7,6861.8,6841.6,6842.2,6840.3,6849.2,6866.2,6868.3,6867.6,6863.6,6863.4]

# ---- swing triangles (slot, price)
tri_down = [(11,6837.7),(23.4,6853.3),(36.2,6839.7),(72.7,6890.7),(108.1,6857),(133.6,6846.6),(148.8,6806.7),(172,6852.4),(192.2,6878.6),(206.3,6866.8),(215.5,6879.3),(243.9,6921.1),(253.1,6916),(278.1,6904.3),(282.5,6894.7),(305.6,6887),(316.6,6883),(336.7,6863.3),(354.2,6896.3),(379.6,6892.3),(395.6,6915.5),(406.6,6901.7),(421.1,6904.6),(435.6,6920),(448,6925.1),(467.6,6913),(496.5,6854.2),(507.3,6853),(525.5,6864)]
tri_up = [(14.8,6831.6),(29.9,6847.5),(40.7,6848.7),(95.9,6842),(127,6834.9),(144.5,6808.9),(153.9,6801.4),(180.5,6845),(204.9,6857.3),(207.6,6852.8),(222.3,6876.2),(249.8,6915.4),(270.3,6884.4),(280.4,6888.3),(294.8,6866.4),(307.8,6882.7),(332.5,6859.8),(343.4,6860.9),(364.5,6865.7),(384.1,6894.7),(401.6,6907),(414.6,6886),(423.3,6891.8),(443.5,6916.3),(455.2,6899.5),(490,6846.4),(501.7,6849.2),(519.6,6854.6)]

# ---- swing labels: (slot, price of upper row, upper row, lower row, kind)
swing_labels = [
(70.4,6902.2,'HH','67.75','g'),(103.9,6889.9,'LH','52.75','r'),(31.2,6867,'DT','54','o'),(14.6,6869.4,'DT','45','o'),
(132.4,6866.4,'LH','56.25','r'),(162.5,6871,'HH','75.75','g'),(191,6888.1,'HH','58.5','g'),(204.5,6874,'LH','16.25','r'),
(210.6,6908.7,'HH','55.25','g'),(239.5,6928,'HH','62.25','g'),(249.5,6930.3,'HH','18.25','g'),(245.3,6906.5,'-16.25','HL','g'),
(272.2,6909.8,'LH','33.25','r'),(280.7,6916.9,'HH','25.75','g'),(278.8,6885.7,'-19','HL','g'),(300.7,6899.1,'LH','37.5','r'),
(308.4,6896,'LH','21.75','r'),(306.5,6868.8,'-24.75','HL','g'),(267.2,6871.4,'-53.25','LL','r'),(335.4,6877.4,'LH','25.25','r'),
(291.9,6856.1,'-55.5','LL','r'),(328.8,6846.6,'-43.75','LL','r'),(336.5,6849.9,'-22','HL','g'),(353.5,6907,'HH','53.75','g'),
(372.4,6929.4,'HH','77.75','g'),(393.2,6927.6,'DT','51','o'),(403.6,6926.7,'DT','33.25','o'),(428.2,6930,'HH','43.75','g'),
(446.3,6933.3,'LH','20.25','r'),(463.6,6934.6,'DT','62.75','o'),(417.4,6912.9,'LH','37.75','r'),(399.3,6888.3,'-34','HL','g'),
(421.3,6886.8,'-21','HL','g'),(435.9,6907.9,'-22.75','HL','g'),(380.5,6871.2,'-52.75','HL','g'),(410,6869.9,'-51.5','LL','r'),
(361.2,6846.2,'-57.5','LL','r'),(452,6866.4,'-61.5','LL','r'),(487.5,6831.9,'-97.5','LL','r'),(498.7,6833.9,'-25.25','HL','g'),
(504.5,6873.6,'HH','34.25','g'),(490.6,6864.6,'LH','27.5','r'),(521.8,6888.1,'HH','55.25','g'),(525.6,6847.7,'-35','HL','g'),
(517.5,6827.3,'-40.75','LL','r'),(11.1,6819,'-47','LL','r'),(26.9,6807.8,'-56.25','LL','r'),(36.9,6829,'-32.75','HL','g'),
(92.4,6831.9,'-65','HL','g'),(122,6804.7,'-79.75','LL','r'),(138.6,6795.3,'-65.75','LL','r'),(151,6790,'-40.25','LL','r'),
(145.1,6835.6,'LH','35','r'),(177.1,6824,'-41.5','HL','g'),(202.1,6852.3,'-30.25','HL','g'),(206,6847.7,'-21','LL','r'),
(217.2,6860.7,'-42.5','HL','g'),
]

# ---- volume profiles: level price, right edge; each session has own zero and scale
prof_feb13 = [(6897,70),(6896,100),(6895,270),(6892,410),(6890,390),(6888.5,570),(6886,440),(6885,400),(6884,510),(6882,440),(6880,340),(6878,350),(6876,380),(6875,430),(6873,430),(6871,370),(6870,380),(6869,400),(6867.5,350),(6866,460),(6865,525),(6863.5,470),(6862,500),(6860.5,580),(6859,690),(6857.5,730),(6856,730),(6854,810),(6853,810),(6851.5,950),(6850.3,1040),(6849,900),(6847.5,1090),(6846.4,1040),(6845,880),(6843,880),(6842,800),(6840,920),(6838,780),(6836.5,580),(6835,510),(6834,400),(6832,200),(6830,210),(6828,210),(6826,190),(6824,190),(6823,165),(6821.5,140),(6820,70),(6818,70),(6815,80),(6813,95),(6812,105),(6810,75),(6809,45)]
prof_feb15 = [(6885,270),(6883,300),(6881,300),(6879,310),(6877,320),(6875,320),(6872,320),(6868,320),(6866,330),(6864,350),(6862,370),(6860,360),(6858,350),(6856,330),(6854,340),(6852.5,340),(6851,300),(6849,290),(6847,275),(6845,265)]
prof_feb17 = [(6883.8,460),(6882.1,520),(6881.1,545),(6880.1,565),(6878.8,640),(6877.8,680),(6876.2,720),(6875.2,770),(6874.2,840),(6873.2,740),(6871.5,680),(6869.6,600),(6868.2,580),(6867.3,640),(6866,600),(6865.3,800),(6864.3,900),(6863.3,1030),(6863,1160),(6862.3,1080),(6861.3,940),(6860.3,1000),(6859.3,1060),(6858.3,1210),(6857.7,1140),(6856.7,1040),(6855.7,1065),(6854.4,950),(6852.4,870),(6851,690),(6849,700),(6847,700),(6845.1,790),(6842.5,775),(6839.8,975),(6837.9,780),(6835.2,740),(6833.2,760),(6831.2,805),(6828.6,720),(6826,640),(6824,660),(6822,670),(6820.7,720),(6819.4,640),(6817.4,590),(6816,650),(6815,755),(6813.4,720),(6811.4,800),(6810,740),(6808,680),(6805.8,740),(6803.5,650),(6801.5,700),(6799.5,600),(6797.5,570),(6794.9,600),(6792.9,530),(6790.9,460)]
prof_feb18 = [(6925.5,410),(6924.5,470),(6923.2,510),(6922.4,520),(6921.6,590),(6921.1,640),(6920.3,780),(6919.8,830),(6917.5,860),(6917,900),(6916,760),(6915.2,900),(6914.1,720),(6912.8,780),(6911.5,720),(6910.8,690),(6909.7,610),(6908.4,570),(6907.9,600),(6906.6,530),(6905.8,600),(6905.1,630),(6904,680),(6903.3,720),(6902.5,790),(6901.7,720),(6900.7,700),(6899.6,680),(6898.6,810),(6897.6,760),(6896.8,790),(6895.2,860),(6894,830),(6892.9,780),(6892.2,650),(6891.1,630),(6890.1,570),(6889,560),(6887.8,610),(6886.7,650),(6886,640),(6884.4,620),(6882.3,560),(6879.7,600),(6877.2,680),(6875.1,775),(6873.5,700),(6871.5,520),(6869.9,550),(6868.9,500),(6867.3,470),(6865.8,430),(6864.2,440),(6861.6,450),(6859,470),(6856.5,460),(6853.9,440),(6851.3,430),(6849.8,410)]
prof_feb19 = [(6912,-60),(6908,-50),(6904,-30),(6900,-10),(6896,0),(6893,10),(6891.7,20),(6890,190),(6888.9,195),(6888,220),(6886.9,115),(6886.2,210),(6885.3,160),(6884.1,215),(6883,135),(6882,215),(6881.1,110),(6880.2,95),(6878.8,280),(6877.5,600),(6877,600),(6876.1,570),(6875.2,520),(6874.2,370),(6873.3,440),(6871.9,500),(6871.5,400),(6871,510),(6869.9,270),(6868.7,220),(6867.8,290),(6866.4,340),(6865,430),(6863.9,350),(6863,300),(6862.1,250),(6861.4,100),(6859.5,190),(6858.2,215),(6857.3,165),(6856.1,240),(6854.9,100),(6853.6,50),(6852.6,-30)]
prof_feb20 = [(6931.6,66),(6930.6,72),(6929.2,100),(6928.3,130),(6927.4,155),(6926.7,150),(6926.1,230),(6925.6,310),(6925.1,340),(6924.4,300),(6923.7,230),(6922.8,240),(6921.6,280),(6921,410),(6920,480),(6919.1,380),(6918.2,360),(6916.8,340),(6915.4,310),(6914.8,285),(6913.6,220),(6913.1,210),(6912.2,280),(6911.5,260),(6910.4,220),(6909.5,190),(6908.1,205),(6906.7,175),(6905.6,290),(6904.9,320),(6903.5,250),(6902.1,275),(6900.7,200),(6898.4,180),(6896.1,130),(6894.5,215),(6893.4,190),(6892,185),(6890,300),(6889.2,230),(6887.9,210),(6886.5,190),(6884.7,175),(6882.8,155),(6880.5,185),(6878.2,130),(6875.5,120),(6873.2,100),(6870.9,90),(6868,90),(6862,90),(6858,105),(6855,115),(6852,120),(6850,70),(6848,65)]
prof_feb22 = [(6928.8,120),(6927.5,160),(6926.3,200),(6923.7,200),(6920.6,150),(6918,120),(6915.5,130),(6913.6,150),(6912,170),(6909.2,280),(6907.3,270),(6904.8,370),(6902.9,170),(6901,140),(6897.8,100),(6894.7,90),(6890.9,170),(6887.1,260),(6885.8,250),(6884.5,150),(6883,250),(6881.4,280),(6879.5,300),(6877.9,420),(6877,495),(6876,310),(6874.4,280),(6872.9,210),(6871,280),(6869.4,200),(6867.8,320),(6866.2,360),(6864.6,300),(6863,175),(6861.8,230),(6860.2,185),(6858.6,280),(6857.4,380),(6856.1,510),(6854.2,420),(6852.6,340),(6851,480),(6849.5,690),(6848.2,600),(6846.6,320),(6845,300),(6844.1,360),(6842.2,420),(6841.2,540),(6839.7,300),(6838.1,400),(6836.5,200),(6835.2,180),(6834,130),(6832.7,80)]
prof_feb24 = [(6883.3,1340),(6882,1340),(6880.1,1320),(6878.5,1400),(6876.3,1410),(6875,1450),(6872.5,1350),(6869.4,1340),(6866.2,1360),(6863,1390),(6859.9,1380),(6856.7,1340),(6853.6,1340),(6850.4,1360),(6847.9,1380),(6845,1350),(6843.5,1330),(6840,1320),(6835,1310),(6830,1300)]
# (levels, start slot, zero of edge, edge per pixel, value-area high, value-area low)
sessions = [
(prof_feb13,0.3,35,2.8,6870.25,6833.25),(prof_feb15,100.2,265,2.529,6864.5,6844),
(prof_feb17,111.9,453,2.529,6865.75,6816.5),(prof_feb18,206.3,406,2.306,6921.5,6886.5),
(prof_feb19,278.1,-76,2.529,6884,6861.5),(prof_feb20,349.1,65,1.104,6926,6890),
(prof_feb22,448.1,75,3.0,6884.5,6835),(prof_feb24,513.4,1315,3.0,6878.5,6847.5),
]
# ---- session shading, separators
session_bands = [(0.2,19.8),(97.4,105.8),(111,126.2),(202.7,216.3),(275.3,288.9),(346.4,360.8),(445.1,460.1),(512.6,514)]
session_lines = [0.3,99.4,111,205.4,277.7,348.6,447.1,512.6]
# ---- levels (price, slot start, slot end)
yellow_levels = [(6851.3,19.1,102.6),(6859,105.1,116.5),(6835,127.5,208.5),(6873.8,217,280.5),(6870.8,288.7,351.8),(6852.8,361.4,453.3),(6908.1,460.3,512.8),(6847.5,513.9,526)]
brown_levels = [(6850.3,96.3,201.7),(6862.3,201.7,274.8),(6895.3,274.3,345.2),(6878,344.8,444),(6924.5,443.5,525.8)]
poc_levels = [(6847.3,0.3,49,6847.3,111.5),(6859,111.9,159.5,6859,205.4),(6917.5,206.3,235.4,6917.5,277.7),(6877.5,278.1,320.4,6877.5,348.6),(6920,349.1,408.3,6920,447.1),(6849.5,448.1,486.9,6849.5,512.6),(6875,513.4,520.5,6875,526.5)]
va_zones = [(49.1,219.2,6846.2,6862.5),(208.7,513.2,6834.4,6861.8)]
dotted_levels = [(6854.4,49.1,219.2),(6848.1,208.7,513.2)]
va_labels = [(99.4,6870.25,'6870.25'),(99.4,6833.25,'6833.25'),(111,6864.5,'6864.50'),(111,6844,'6844.00'),(205.4,6865.75,'6865.75'),(205.4,6816.5,'6816.50'),(277.7,6921.5,'6921.50'),(277.7,6886.5,'6886.50'),(348.6,6884,'6884.00'),(348.6,6861.5,'6861.50'),(447.1,6926,'6926.00'),(447.1,6890,'6890.00'),(512.6,6884.5,'6884.50'),(512.6,6835,'6835.00'),(526.5,6878.5,'6878.50'),(526.5,6847.5,'6847.50')]
poc_labels = [(111,6862,'6862.00'),(205.4,6859,'6859.00'),(277.7,6917.5,'6917.50'),(348.6,6877.5,'6877.00'),(447.1,6920,'6920.00'),(512.6,6849.5,'6850.00'),(526.5,6875,'6875.00'),(99.4,6847.3,'6847.25')]
sum_labels = [(0.8,6812.4,'Σ: 1722K / 89.00'),(100.7,6845.4,'Σ: 183K / 44.50'),(112.3,6791.6,'Σ: 1594K / 92.75'),(206.8,6849.1,'Σ: 1281K / 77.00'),(278.4,6848,'Σ: 1233K / 64.75'),(349.7,6847.5,'Σ: 1735K / 84.25'),(448.6,6832.7,'Σ: 1120K / 97.50'),(513.9,6828.6,'Σ: 216K / 55.25')]
wave_pink = [(0,6925,'(b)'),(0,6917.9,'(ii)'),(0,6894.5,'(v)'),(0,6874.5,'(b)')]
wave_lime = [(0,6886,'iv'),(0,6869.4,'v'),(0,6860.6,'iv'),(0,6855.2,'iii'),(0,6853.6,'ii'),(0,6808.2,'iv')]
date_labels = [(6.5,'Friday','2/13/2026'),(100.2,'Sunday','2/15/2026'),(104,'Monday','2/16/2026'),(117.2,'Tuesday','2/17/2026'),(209,'Wednesday','2/18/2026'),(281,'Thursday','2/19/2026'),(352.4,'Friday','2/20/2026'),(447.9,'Sunday','2/22/2026'),(453.8,'Monday','2/23/2026'),(513.4,'Tuesday','2/24/2026')]
xtick_pos = [0,6.5,23,39.2,55.2,71.1,87.2,100,103,116.8,133.6,149.6,165.5,181.7,209.2,225.6,241.4,257.6,281.1,297.2,313.5,329.3,352.1,368.5,384.4,400.5,417.1,447.9,465.3,481,513.2]
xtick_txt = ['','Feb 13','6:35 AM','7:06 AM','7:59 AM','9:51 AM','','Feb 15','','Feb 17','6:46 AM','7:35 AM','8:36 AM','10:29 AM','Feb 18','6:55 AM','8:30 AM','11:16 AM','Feb 19','6:56 AM','8:22 AM','10:26 AM','Feb 20','6:52 AM','7:30 AM','8:40 AM','9:59 AM','Feb 22','7:00 AM','8:10 AM','Feb 24']
# ---- efficiency ratio humps (slot, value)
er_red = [[(25,-10),(26,7),(27,15),(27.3,34),(28,-10)],[(84.4,-10),(85.5,12),(86,9),(86.5,-10)],[(88,-10),(90,12),(91,18),(92,24),(92.5,20),(93.5,10),(94,14),(95.5,-10)],[(262.5,-10),(264,15),(265,48),(266,40),(267,-10)],[(351,-10),(352.5,10),(353.5,-10)],[(447.5,-10),(449,20),(449.6,39),(451,25),(452,-10)],[(470,-10),(472,5),(475,14),(478,18),(480,30),(482,40),(483,60),(484,70),(485,77),(486,40),(487,-10)]]
er_green = [[(65.6,-10),(67.5,5),(68.5,15),(69.3,40),(70.5,35),(71,14),(72.3,-10)],[(101.5,-10),(102,-5),(102.5,2),(103,-10)],[(143,-10),(144,3),(145,-10)],[(158.5,-10),(160,10),(160.5,40),(161,68),(162,62),(162.7,40),(163.5,-10)],[(184,-10),(185.5,20),(186.5,45),(187.5,30),(188.5,48),(189.5,30),(190.5,-10)],[(277.5,-10),(278.5,15),(279.5,-10)],[(354,-10),(355,20),(356,8),(357,-10)],[(374.5,-10),(376,20),(376.8,36),(378,28),(379,-10)],[(520,-10),(521,10),(522,-10)]]
er_navy = [[(27.2,-10),(27.6,-4),(28,-10)],[(67,-10),(68.5,5),(70,30),(71,38),(72,25),(73.5,-10)],[(88,-10),(90,5),(92,17),(93.5,20),(95,15),(96,5),(97,-10)],[(160,-10),(161.3,30),(162.2,60),(163,66),(164,40),(165,-10)],[(186,-10),(187.5,25),(189,42),(190.5,45),(191.5,30),(192.5,-10)],[(264,-10),(265.5,30),(266.5,46),(267.8,40),(268.8,-10)],[(376,-10),(377.5,28),(378.5,34),(379.8,24),(380.8,-10)],[(449.5,-10),(451,15),(452,25),(453,-10)],[(473,-10),(476,6),(479,14),(482,30),(484,55),(486,70),(487,74),(488,40),(489,-10)]]
# ---- lower pane floating range marks (slot, low, high)
range_marks = [(0.9,2.4,7.2),(2,1.4,4.8),(4,4.8,9.6),(5.3,5.3,10),(14,20.7,25.5),(14.6,1.4,2.9),(21,1.4,2.4),(31.7,3.4,8.2),(35.3,3.9,8.7),(105.4,1.4,2.4),(113.3,11.6,16.1),(116.8,16.9,21.2),(121.8,1.4,2.4),(214,1.4,3),(212.9,3,8),(262,1.4,4),(352.5,8,13),(371,25.5,30),(373,1.4,6),(376.5,1.4,4),(388,1.4,3),(388.5,1.4,2.4),(420,1.4,2.4),(442.8,1.4,3),(447,1.4,5),(448.5,1.4,7),(454,6,11),(513.5,1.4,3)]
price_ticks = list(range(6790, 6931, 10))
last_tags = [(6863.00,'#000080','white'),(6860.50,'#efebdc','black'),(6857.75,'#000080','white')]

BG = '#fdf6e3'; BAND = '#e3dfd1'; GRID = '#5f7785'; NAVY = '#000080'; TEAL = '#2f8f94'
plt.rcParams['font.family'] = ['Liberation Sans', 'DejaVu Sans']
fig = plt.figure(figsize=(W/100, H/100), dpi=100, facecolor=BG)

def pane(top, bottom):
    a = fig.add_axes([0, 1-bottom/H, 3713/W, (bottom-top)/H], facecolor=BG)
    a.set_xlim(-X0/PX_BAR, (3713-X0)/PX_BAR)
    for s in a.spines.values():
        s.set_visible(False)
    a.tick_params(length=0, labelleft=False, labelbottom=False)
    return a

ax_er = pane(0, 147)
ax = pane(147, 1900)
ax_low = pane(1900, 2033)
ax_er.set_ylim((137-147)/0.83, 137/0.83)
ax.set_ylim(6930-(1900-258.6)/11.1, 6930+(258.6-147)/11.1)
ax_low.set_ylim(0, 133/2.075)

for a in (ax_er, ax, ax_low):
    for b0, b1 in session_bands:
        a.axvspan(b0, b1, color=BAND, lw=0, zorder=0)
    for v in session_lines:
        a.axvline(v, color='#6a78b4', lw=1.3, zorder=1)

ax.hlines(price_ticks, *ax.get_xlim(), color=GRID, lw=1.1, zorder=1)
ax_er.axhline(0, color=GRID, lw=1.3, zorder=1)
ax_er.axhline(-10, color=GRID, lw=3.0, zorder=4, clip_on=False)
ax_low.axhline(40, color=GRID, lw=1.3, zorder=1)
ax_low.axhline(64.1, color=GRID, lw=1.6, zorder=1)
ax_low.axhline(0, color=GRID, lw=1.6, zorder=1)

# volume profiles
for levels, start, zero, sc, vah, val in sessions:
    p = np.array([l[0] for l in levels], float)
    w = np.maximum(np.array([l[1] for l in levels], float) - zero, 0.5) / sc / PX_BAR
    edges = np.r_[p[0]+0.5, (p[:-1]+p[1:])/2, p[-1]-0.5]
    for i in range(len(p)):
        inside = val <= p[i] <= vah
        ax.barh((edges[i]+edges[i+1])/2, w[i], height=edges[i]-edges[i+1], left=start,
                color='#7ea6ec' if inside else '#b3c6e4', lw=0, zorder=2)

# value-area zones
for x0, x1, p0, p1 in va_zones:
    ax.add_patch(Rectangle((x0, p0), x1-x0, p1-p0, fc=(0.85, 0.72, 0.33, 0.27), ec='none', zorder=3))
    ax.hlines([p0, p1], x0, x1, color='#ffd700', lw=2.0, zorder=3)
for p, x0, x1 in dotted_levels:
    ax.hlines(p, x0, x1, color='#5a7fd8', lw=1.0, linestyles=(0, (1, 2)), zorder=3)

# session value-area boundary dashes and POC
for levels, start, zero, sc, vah, val in sessions:
    end = min([v for v in session_lines if v > start+1] + [526.5])
    ax.hlines([vah, val], start, end, color='#6f93e0', lw=1.0, linestyles=(0, (3, 1.5)), zorder=3)
for p, x0, x1, p2, x2 in poc_levels:
    ax.hlines(p, x0, x1, color='#daa520', lw=3.0, zorder=3)
    ax.hlines(p2, x1, x2, color='#b8860b', lw=1.0, linestyles=(0, (3, 1.5)), zorder=3)
for x, p, t in va_labels:
    ax.text(x, p+0.25, t, color='#7f9ee8', fontsize=8.6, ha='right', va='bottom', zorder=4)
for x, p, t in poc_labels:
    ax.text(x, p+0.25, t, color='#c99a3a', fontsize=8.6, ha='right', va='bottom', zorder=4)

# last price dotted
ax.hlines(6860.5, *ax.get_xlim(), color='#b8860b', lw=3.4, linestyles=(0, (1, 1)), zorder=9)

# first-bar wave lines
ax.vlines(-0.1, 6872, 6940, color='#1f6fd0', lw=2.6, zorder=4)
ax.vlines(-0.1, 6872, 6940, color=NAVY, lw=1.2, linestyles=(0, (4, 2)), zorder=4)
ax.vlines(-0.2, 6811, 6865, color='#39e639', lw=2.4, zorder=4)

# candles
EDGE = {'k': '#000000', 'g': '#008000', 'n': '#808080', 'r': '#ff0000'}
UPFILL = {'k': '#ffffff', 'g': '#ffffff', 'n': '#dcdcdc', 'r': '#ffffff'}
DNFILL = {'k': '#000000', 'g': '#000000', 'n': '#808080', 'r': '#000000'}
all_bars = bars_feb13 + bars_feb15_early + bars_feb17 + bars_feb18 + bars_feb19 + bars_feb20 + bars_feb22 + bars_feb24
for s, st, o, h, l, c in sorted(all_bars, key=lambda b: b[0]):
    col = EDGE[st]
    ax.vlines(s, l, h, color=col, lw=3.0, zorder=5)
    up = c >= o
    lo, hi = min(o, c), max(o, c)
    ax.add_patch(Rectangle((s-0.85, lo), 1.7, max(hi-lo, 0.15), fc=UPFILL[st] if up else DNFILL[st],
                           ec=col, lw=3.0, zorder=5, joinstyle='miter'))

# MA fill and lines
grid_x = np.arange(45.9, 526.1, 0.1)
e = np.interp(grid_x, ema_slots, ema_vals)
k = np.interp(grid_x, kama_slots, kama_vals)
ax.fill_between(grid_x, e, k, where=k >= e, color=(0.74, 0.74, 0.44, 0.45), lw=0, zorder=6, interpolate=True)
ax.fill_between(grid_x, e, k, where=k < e, color=(0.93, 0.55, 0.45, 0.45), lw=0, zorder=6, interpolate=True)
ax.plot(ema_slots, ema_vals, color=TEAL, lw=2.0, zorder=7)
ax.plot(kama_slots, kama_vals, color=NAVY, lw=1.9, ls=(0, (4, 1.2, 1, 1.2)), zorder=7)

# yellow / brown levels over candles
for p, x0, x1 in yellow_levels:
    ax.hlines(p, x0, x1, color='#ffd700', lw=3.2, zorder=7)
for p, x0, x1 in brown_levels:
    ax.hlines(p, x0, x1, color='#8b4513', lw=3.2, zorder=7)

# triangles
ax.scatter([t[0] for t in tri_down], [t[1] for t in tri_down], marker='v', s=130, c='#ff0000', lw=0, zorder=8)
ax.scatter([t[0] for t in tri_up], [t[1] for t in tri_up], marker='^', s=130, c='#008000', lw=0, zorder=8)

# selection box
ax.add_patch(Rectangle((230, 6907.7), 22.1, 15.1, fc='none', ec='#000000', lw=2.8, zorder=9))

# swing labels
LC = {'g': '#008000', 'r': '#ff0000', 'o': '#daa520'}
for s, p, t1, t2, kind in swing_labels:
    ax.text(s, p, t1, color=LC[kind], fontsize=11.2, family='DejaVu Sans Mono', ha='center', va='center', zorder=10)
    ax.text(s, p-2.15, t2, color=LC[kind], fontsize=11.2, family='DejaVu Sans Mono', ha='center', va='center', zorder=10)
for s, p, t in sum_labels:
    ax.text(s, p, t, color='#4a5a10', fontsize=6.2, ha='left', va='center', zorder=10, family='DejaVu Sans')
for s, p, t in wave_pink:
    ax.text(s, p, t, color='#ff69b4', fontsize=17.5, ha='center', va='center', zorder=10)
for s, p, t in wave_lime:
    ax.text(s, p, t, color='#39ff14', fontsize=17, ha='center', va='center', zorder=10)
for s, d, dt in date_labels:
    ax.text(s, 6800.7, d, color='black', fontsize=14.4, ha='left', va='center', zorder=10)
    ax.text(s, 6798.6, dt, color='black', fontsize=14.4, ha='left', va='center', zorder=10)

# upper pane
for hump in er_red:
    ax_er.plot(*zip(*hump), color='#ff0000', lw=2.6, ls=(0, (3.5, 1.5)), zorder=3)
for hump in er_green:
    ax_er.plot(*zip(*hump), color='#008000', lw=2.6, ls=(0, (3.5, 1.5)), zorder=3)
for hump in er_navy:
    ax_er.plot(*zip(*hump), color=NAVY, lw=1.8, ls=(0, (2.5, 1.2)), zorder=3)

# lower pane
ax_low.bar([r[0] for r in range_marks], [r[2]-r[1] for r in range_marks], bottom=[r[1] for r in range_marks],
           width=1.55, color='#2a8ad8', lw=0, zorder=3)

# x ticks
ax_low.set_xticks(xtick_pos)
ax_low.set_xticklabels([])
ax_low.tick_params(axis='x', length=10, width=1.2, color=GRID, direction='out', pad=0)
for s, t in zip(xtick_pos, xtick_txt):
    if t:
        ax_low.annotate(t, (s, 0), xytext=(0, -26), textcoords='offset pixels', ha='center', va='center',
                        fontsize=16.5, color='#0f3a48', annotation_clip=False)

# furniture layer in screen pixels
ov = fig.add_axes([0, 0, 1, 1], facecolor='none', zorder=20)
ov.set_xlim(0, W); ov.set_ylim(H, 0); ov.axis('off')
ov.plot([3713, 3713], [0, 2033], color=GRID, lw=1.8)
ov.plot([0, 3713], [2033, 2033], color=GRID, lw=1.8)
TC = '#0f3a48'
for p in price_ticks:
    y = 258.6 + (6930-p)*11.1
    ov.plot([3713, 3719], [y, y], color=GRID, lw=1.2)
    if p != 6860:
        ov.text(3722, y+1, f'{p:.2f}', fontsize=17.3, color=TC, ha='left', va='center')
ov.plot([3713, 3719], [54, 54], color=GRID, lw=1.2)
ov.text(3745, 54, '100', fontsize=17.3, color=TC, ha='left', va='center')
ov.plot([3713, 3719], [1950, 1950], color=GRID, lw=1.2)
ov.text(3745, 1950, '40', fontsize=17.3, color=TC, ha='left', va='center')
for p, fc, tc in last_tags:
    y = 258.6 + (6930-p)*11.1
    ov.add_patch(Polygon([(3707, y), (3714, y-14), (3819, y-14), (3819, y+14), (3714, y+14)], fc=fc, ec='#9aa9c0', lw=1))
    ov.text(3723, y+1, f'{p:.2f}', fontsize=17.3, color=tc, ha='left', va='center')
ov.text(3588, 1022, '1618  13.25', fontsize=12, color='black', ha='left', va='center')
ov.text(3700, 1875, 'ATR: 8.69', fontsize=16.5, color=TC, ha='right', va='center')
ov.text(4, 20, 'amaEfficiencyRatio(ES 03-26 (10000 Tick),Balanced,0.75,10,10)', fontsize=17.4, color=TC, ha='left', va='center')
ov.text(4, 167, 'dpDATE(ES 03-26 (10000 Tick))', fontsize=17.4, color=TC, ha='left', va='center')
serif = dict(family='Liberation Serif', fontweight='bold', color='black', va='center')
ov.text(11, 191, 'Pacific Time, March 2026 Contract,', fontsize=28.2, ha='left', **serif)
ov.text(11, 235, 'ES', fontsize=28.2, ha='left', **serif)
ov.text(11, 280, '10000 Tick', fontsize=28.2, ha='left', **serif)
ov.text(3700, 171, 'ama Moving Average Cross KAMA & EMA 21n,, Price Action Swing, Order Flow Volume Profile', fontsize=17.7, ha='right', **serif)
ov.text(11, 1876, 'Bar Range and 21n EMA  both in POINTS,', fontsize=17.7, ha='left', **serif)
ov.text(4, 2012, '© 2026 NinjaTrader, LLC', fontsize=16.5, color=TC, ha='left', va='center')
ov.text(4, 2086, 'ES 03-26 ES 03-26 10000 Tick', fontsize=7.5, color='#666666', ha='left', va='center')
ov.text(3816, 2086, 'NINJATRADER', fontsize=9.5, color='#cc1111', fontweight='bold', ha='right', va='center')

fig.savefig('out.png', dpi=100, facecolor=BG)
